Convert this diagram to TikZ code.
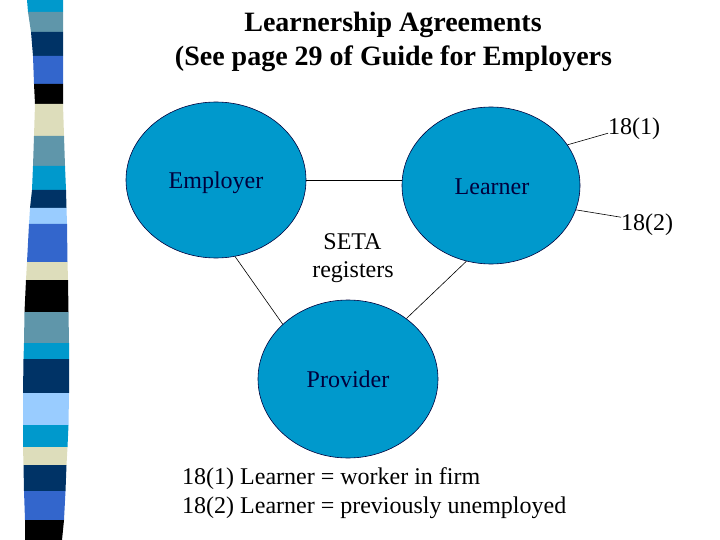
\documentclass[tikz,border=0pt]{standalone}
\usepackage{fontspec}
\setmainfont{Liberation Serif}
\usetikzlibrary{shapes.geometric}
\definecolor{bcyan}{RGB}{0,153,204}
\definecolor{bsteel}{RGB}{95,150,170}
\definecolor{bnavy}{RGB}{0,51,102}
\definecolor{broyal}{RGB}{51,102,204}
\definecolor{bbeige}{RGB}{221,221,187}
\definecolor{blight}{RGB}{153,204,255}
\definecolor{bblack}{RGB}{0,0,0}
\definecolor{ellfill}{RGB}{0,153,204}
\definecolor{elltext}{RGB}{0,0,60}
\tikzset{
  ell/.style={ellipse, draw=elltext, line width=0.6pt, fill=ellfill, inner sep=0pt},
  txt/.style={font=\fontsize{24}{29}\selectfont, inner sep=0pt, anchor=base},
  eltxt/.style={txt, text=elltext},
  ttl/.style={font=\fontsize{28}{33}\selectfont\bfseries, inner sep=0pt, anchor=base},
  conn/.style={draw=black, line width=0.6pt}
}
\begin{document}
\begin{tikzpicture}[x=1pt,y=-1pt]
\useasboundingbox (0,0) rectangle (720,540);
% decorative strip
\foreach \ya/\la/\ra/\yb/\lb/\rb/\c in {
 0/27/63/12/28/63/bcyan,
 12/28/63/32/31/63/bsteel,
 32/31/63/56/33/63/bnavy,
 56/33/63/84/34/63/broyal,
 84/34/63/104/35/63/bblack,
 104/35/63/136/34/64/bbeige,
 136/34/64/166/33/65/bsteel,
 166/33/65/190/32/66/bcyan,
 190/32/66/208/30/66.5/bnavy,
 208/30/66.5/224/29/67/blight,
 224/29/67/262/27/67.5/broyal,
 262/27/67.5/280/26/68/bbeige,
 280/26/68/312/24.5/68.5/bblack,
 312/24.5/68.5/343/24/69/bsteel,
 343/24/69/359/23.5/69/bcyan,
 359/23.5/69/393/23/69/bnavy,
 393/23/69/425/23/68.5/blight,
 425/23/68.5/447/23/67.5/bcyan,
 447/23/67.5/465/23.5/66.5/bbeige,
 465/23.5/66.5/491/24/65.5/bnavy,
 491/24/65.5/520/25/64/broyal,
 520/25/64/540/25/62/bblack}
 { \fill[\c] (\la,\ya) -- (\ra,\ya) -- (\rb,\yb) -- (\lb,\yb) -- cycle; }
% title
\node[ttl] (title1) at (393,32) {Learnership Agreements};
\node[ttl] (title2) at (393.5,66) {(See page 29 of Guide for Employers};
% ellipses
\node[ell, minimum width=180pt, minimum height=156pt] (employer) at (216,180) {};
\node[ell, minimum width=178pt, minimum height=157pt] (learner) at (491,185.5) {};
\node[ell, minimum width=180pt, minimum height=158pt] (provider) at (348,379) {};
\node[eltxt] (employertxt) at (216,189) {Employer};
\node[eltxt] (learnertxt) at (492,195) {Learner};
\node[eltxt] (providertxt) at (348,387) {Provider};
% connectors
\draw[conn] (employer.east) -- (employer.east -| learner.west);
\draw[conn] (employer.-76) -- (provider.140);
\draw[conn] (learner.-108) -- (provider.46);
% SETA
\node[txt] (seta) at (352.5,249) {SETA};
\node[txt] (registers) at (353,277) {registers};
% 18 labels
\node[txt, anchor=base west] (l1) at (608,135) {18(1)};
\node[txt, anchor=base west] (l2) at (621,230) {18(2)};
\draw[conn] (learner.28) -- ([yshift=-4pt]l1.west);
\draw[conn] (learner.-16) -- ([yshift=7pt]l2.west);
% bottom text
\node[txt, anchor=base west] (note1) at (182,484) {18(1) Learner = worker in firm};
\node[txt, anchor=base west] (note2) at (182,513) {18(2) Learner = previously unemployed};
\end{tikzpicture}
\end{document}
